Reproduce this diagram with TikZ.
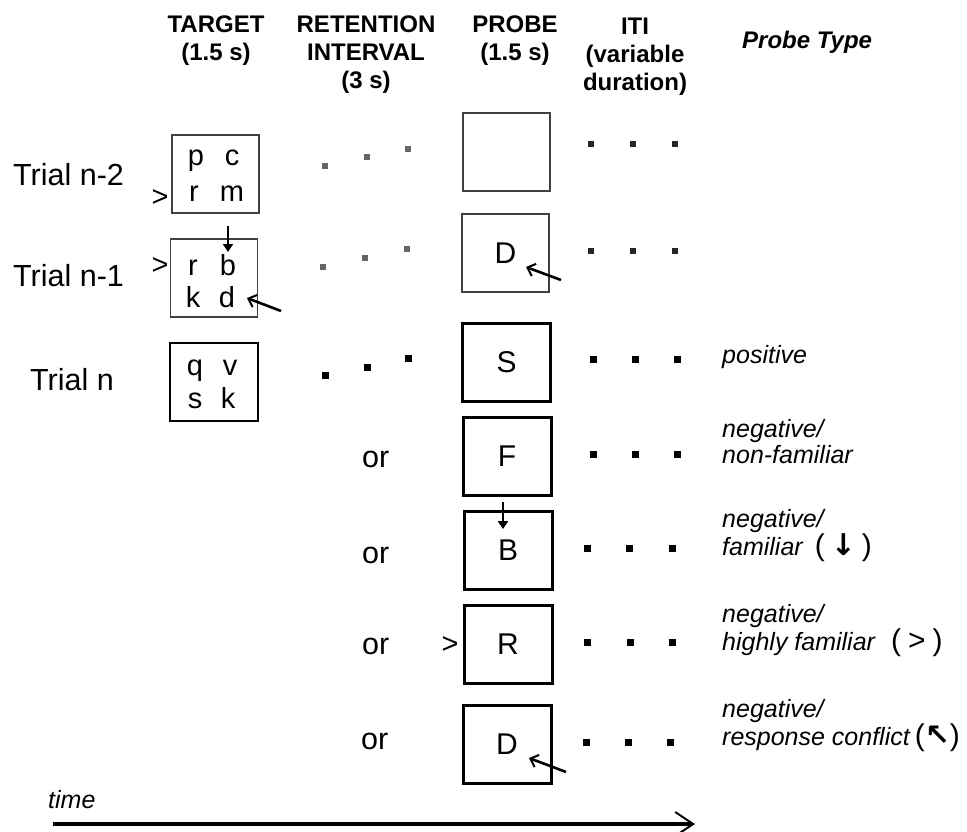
\documentclass[tikz,border=0pt]{standalone}
\usepackage{fontspec}
\setmainfont{Liberation Sans}
\newfontfamily\dvfont{DejaVu Sans}
\usetikzlibrary{arrows.meta}
\begin{document}
\begin{tikzpicture}[x=1pt,y=-1pt,
 hdr/.style={font=\bfseries\fontsize{24}{28}\selectfont,align=center,anchor=north,inner sep=0pt},
 lbl/.style={font=\fontsize{30.5}{32}\selectfont,anchor=base west,inner sep=0pt},
 ltr/.style={font=\fontsize{29}{30}\selectfont,anchor=base,inner sep=0pt},
 faintbox/.style={draw=black!75,line width=1.7pt,minimum width=87pt,minimum height=78pt,inner sep=0pt,font=\fontsize{30}{31}\selectfont},
 boldbox/.style={draw=black,line width=3pt,minimum width=88pt,minimum height=78pt,inner sep=0pt,font=\fontsize{30}{31}\selectfont},
 faintdot/.style={fill=black!60,minimum size=5.5pt,inner sep=0pt},
 itidot/.style={fill=black!85,minimum size=6pt,inner sep=0pt},
 dot/.style={fill=black,minimum size=7pt,inner sep=0pt},
 ptype/.style={font=\itshape\fontsize{25}{26}\selectfont,align=left,anchor=north west,inner sep=0pt},
 ptone/.style={font=\itshape\fontsize{25}{26}\selectfont,anchor=base west,inner sep=0pt},
 barb/.style={-{Straight Barb[length=7pt,width=13pt,line width=2pt]},line width=2.6pt},
 down/.style={-{Triangle[length=8pt,width=10pt]},line width=1.8pt},
]
\useasboundingbox (0,0) rectangle (967,831);

% headers
\node[hdr] (hT) at (216,16) {TARGET\\(1.5 s)};
\node[hdr] (hR) at (366,16) {RETENTION\\INTERVAL\\(3 s)};
\node[hdr] (hP) at (515,16) {PROBE\\(1.5 s)};
\node[hdr] (hI) at (635,18) {ITI\\(variable\\duration)};
\node[font=\bfseries\itshape\fontsize{24}{28}\selectfont,anchor=base west,inner sep=0pt] (hPT) at (742,48) {Probe Type};

% trial labels
\node[lbl] (l2) at (13,185) {Trial n-2};
\node[lbl] (l1) at (13,286) {Trial n-1};
\node[lbl] (l0) at (30,390) {Trial n};

% target boxes
\node[faintbox] (T2) at (215.5,174) {};
\node[faintbox] (T1) at (214,278) {};
\node[boldbox,line width=2.6pt] (T0) at (214,382) {};

\node[ltr] (t2a) at (196,165) {p};
\node[ltr] (t2b) at (232,165) {c};
\node[ltr] (t2c) at (194,201) {r};
\node[ltr] (t2d) at (232,201) {m};
\node[ltr] (t1a) at (193,275) {r};
\node[ltr] (t1b) at (228,275) {b};
\node[ltr] (t1c) at (193,307) {k};
\node[ltr] (t1d) at (227,307) {d};
\node[ltr] (t0a) at (195,375) {q};
\node[ltr] (t0b) at (230,375) {v};
\node[ltr] (t0c) at (195,408) {s};
\node[ltr] (t0d) at (228,408) {k};

\node[ltr] (g2) at (160,206) {>};
\node[ltr] (g1) at (160,274) {>};

% arrows in target n-1
\coordinate (a1s) at (228,226);
\coordinate (a1e) at (228,252);
\draw[down] (a1s) -- (a1e);
\coordinate (a2s) at (281,311);
\coordinate (a2e) at (247,298);
\draw[barb] (a2s) -- (a2e);

% retention dots
\node[faintdot] (r2a) at (325,166) {};
\node[faintdot] (r2b) at (367,157) {};
\node[faintdot] (r2c) at (408,149) {};
\node[faintdot] (r1a) at (323,267) {};
\node[faintdot] (r1b) at (365,258) {};
\node[faintdot] (r1c) at (407,249) {};
\node[dot] (r0a) at (325,375) {};
\node[dot] (r0b) at (367,367) {};
\node[dot] (r0c) at (408,358) {};

% probe boxes
\node[faintbox] (P2) at (506.5,152) {};
\node[faintbox] (P1) at (505.5,253) {D};
\node[boldbox] (P0) at (506.5,362) {S};
\node[boldbox] (PF) at (507,456.5) {F};
\node[boldbox] (PB) at (508,550.5) {B};
\node[boldbox] (PR) at (508,644.5) {R};
\node[boldbox] (PD) at (507,744) {D};

\coordinate (a3s) at (561,280);
\coordinate (a3e) at (526,267);
\draw[barb] (a3s) -- (a3e);
\coordinate (a4s) at (503,502);
\coordinate (a4e) at (503,529);
\draw[down] (a4s) -- (a4e);
\node[ltr] (gR) at (450,653) {>};
\coordinate (a5s) at (566,772);
\coordinate (a5e) at (529,758);
\draw[barb] (a5s) -- (a5e);

% or labels
\node[lbl] (oF) at (362,467) {or};
\node[lbl] (oB) at (362,563) {or};
\node[lbl] (oR) at (362,654) {or};
\node[lbl] (oD) at (361,749) {or};

% ITI dots
\node[itidot] (i2a) at (591,144) {};
\node[itidot] (i2b) at (633,144) {};
\node[itidot] (i2c) at (675,144) {};
\node[itidot] (i1a) at (591,251) {};
\node[itidot] (i1b) at (633,251) {};
\node[itidot] (i1c) at (675,251) {};
\node[dot] (i0a) at (593,359) {};
\node[dot] (i0b) at (635,359) {};
\node[dot] (i0c) at (677,359) {};
\node[dot] (iFa) at (593,454) {};
\node[dot] (iFb) at (635,454) {};
\node[dot] (iFc) at (677,454) {};
\node[dot] (iBa) at (587,548) {};
\node[dot] (iBb) at (629,548) {};
\node[dot] (iBc) at (672,548) {};
\node[dot] (iRa) at (587,642) {};
\node[dot] (iRb) at (630,642) {};
\node[dot] (iRc) at (672,642) {};
\node[dot] (iDa) at (586,742) {};
\node[dot] (iDb) at (628,742) {};
\node[dot] (iDc) at (670,742) {};

% probe types
\node[ptone] (pt0) at (722,363) {positive};
\node[ptype] (ptF) at (722,419) {negative/\\non-familiar};
\node[ptype] (ptB) at (722,509) {negative/\\familiar\hspace{12pt}{\upshape\fontsize{30}{26}\selectfont(\hspace{6pt}{\dvfont\bfseries ↓}\hspace{6pt})}};
\node[ptype] (ptR) at (722,604) {negative/\\highly familiar\hspace{16pt}{\upshape\fontsize{30}{26}\selectfont(\hspace{7pt}>\hspace{7pt})}};
\node[ptype] (ptD) at (722,699) {negative/\\response conflict\hspace{5pt}{\upshape\fontsize{30}{26}\selectfont({\dvfont\bfseries ↖})}};

% time
\node[ptone] (tl) at (48,808) {time};
\coordinate (ts) at (53,824);
\coordinate (te) at (695,824);
\draw[line width=3.5pt,-{Straight Barb[length=18pt,width=24pt,line width=2pt]}] (ts) -- (te);
\end{tikzpicture}
\end{document}
